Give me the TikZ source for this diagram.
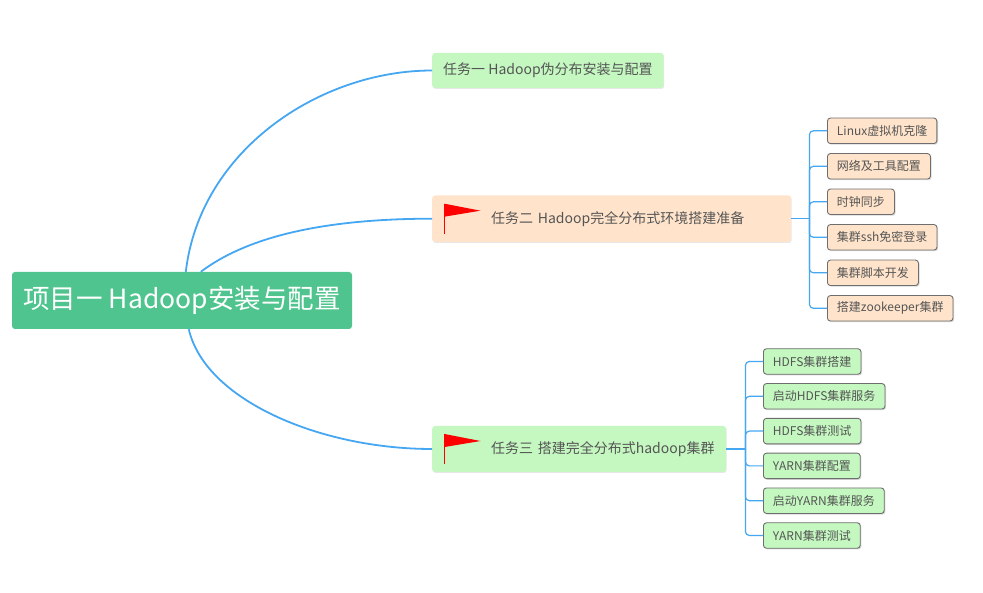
\documentclass[tikz,border=0pt]{standalone}
\usepackage{fontspec}
\setmainfont{Noto Sans CJK SC}
\usetikzlibrary{calc,shadows}

\definecolor{rootgreen}{HTML}{50C48E}
\definecolor{taskgreen}{HTML}{C4F8C0}
\definecolor{taskpeach}{HTML}{FFE4CB}
\definecolor{linkblue}{HTML}{45A6F2}
\definecolor{textgray}{HTML}{555555}
\definecolor{leafline}{HTML}{6E6E6E}
\definecolor{flagred}{HTML}{FF0000}

\tikzset{
  rootbox/.style={fill=rootgreen, text=white, rounded corners=3pt, font=\fontsize{26.5}{30}\selectfont, inner sep=0pt},
  taskbox/.style={rounded corners=3pt, text=textgray, font=\fontsize{14}{17}\selectfont,
    drop shadow={shadow xshift=0.5pt, shadow yshift=-1pt, fill=black!18}},
  leaf/.style={draw=leafline, line width=0.9pt, rounded corners=3pt, text=textgray,
    font=\fontsize{12}{14}\selectfont, inner xsep=9.5pt, inner ysep=0pt, minimum height=25.5pt,
    drop shadow={shadow xshift=1.2pt, shadow yshift=-1.2pt, fill=black!30}},
  link/.style={draw=linkblue, line width=1.8pt},
  sublink/.style={draw=linkblue, line width=1.2pt, rounded corners=4pt},
}

% red flag in front of a task
\newcommand{\taskflag}[1]{%
  \fill[flagred] ($(#1.west)+(12.5,-15)$) -- ($(#1.west)+(48.5,-8)$) -- ($(#1.west)+(12.5,-2)$) -- cycle;
  \draw[flagred, line width=1.5pt] ($(#1.west)+(12.5,-15)$) -- ($(#1.west)+(12.5,15.5)$);
}

\begin{document}
\begin{tikzpicture}[x=1pt,y=-1pt]
  \useasboundingbox (0,0) rectangle (983,593);

  \node[rootbox, minimum width=340, minimum height=57] (root) at (182,300.5) {项目一 Hadoop安装与配置};

  \node[taskbox, fill=taskgreen, anchor=west, inner xsep=11pt, inner ysep=0pt, minimum height=35] (t1) at (432,70.5) {任务一 Hadoop伪分布安装与配置};
  \node[taskbox, fill=taskpeach, anchor=west, inner xsep=0pt, inner ysep=0pt, minimum height=46.5, text width=359pt, align=left] (t2) at (432,218.7) {\hspace*{59pt}任务二 Hadoop完全分布式环境搭建准备};
  \node[taskbox, fill=taskgreen, anchor=west, inner xsep=0pt, inner ysep=0pt, minimum height=46, text width=294pt, align=left] (t3) at (432,449) {\hspace*{59pt}任务三 搭建完全分布式hadoop集群};
  \taskflag{t2}
  \taskflag{t3}

  \draw[link] ($(root.north west)+(174,0)$) .. controls (200,150) and (320,70.5) .. (t1.west);
  \draw[link] ($(root.north west)+(189,0)$) .. controls (230,250) and (290,218.7) .. (t2.west);
  \draw[link] ($(root.south west)+(177,0)$) .. controls (205,400) and (320,449) .. (t3.west);

  \foreach \txt [count=\i] in {Linux虚拟机克隆,网络及工具配置,时钟同步,集群ssh免密登录,集群脚本开发,搭建zookeeper集群}
  {
  \node[leaf, fill=taskpeach, anchor=west] (s2\i) at (827,{130.8+35.5*(\i-1)}) {\txt};
  }
  \foreach \txt [count=\i] in {HDFS集群搭建,启动HDFS集群服务,HDFS集群测试,YARN集群配置,启动YARN集群服务,YARN集群测试}
  {
  \node[leaf, fill=taskgreen, anchor=west] (s3\i) at (763,{361.5+34.8*(\i-1)}) {\txt};
  }

  \coordinate (t2fork) at ($(t2.east)+(18,0)$);
  \coordinate (t3fork) at ($(t3.east)+(19,0)$);
  \draw[sublink] (t2.east) -- (t2fork);
  \draw[sublink] (t3.east) -- (t3fork);
  \foreach \i in {1,...,6}
  {
  \draw[sublink] (t2fork) |- (s2\i.west);
  \draw[sublink] (t3fork) |- (s3\i.west);
  }

\end{tikzpicture}
\end{document}
